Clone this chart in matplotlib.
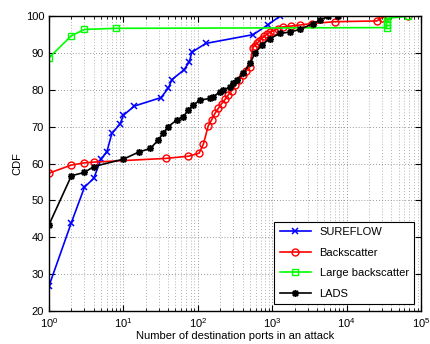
import matplotlib
matplotlib.use("Agg")
import matplotlib.pyplot as plt
from matplotlib.ticker import LogLocator, NullFormatter

plt.rcParams['font.family'] = ['Liberation Sans', 'DejaVu Sans']
plt.rcParams['mathtext.fontset'] = 'custom'
plt.rcParams['mathtext.rm'] = 'Liberation Sans'
plt.rcParams['mathtext.it'] = 'Liberation Sans'

# data
sureflow_x = [1, 2, 3, 4, 5, 6, 7, 9, 10, 14, 32, 40, 45, 65, 77, 83, 128, 557, 869, 1270]
sureflow_y = [26.8, 44, 53.6, 56, 61.2, 63.2, 68.2, 70.7, 73.1, 75.6, 77.9, 80.4, 82.8,
              85.4, 87.6, 90.2, 92.6, 95.0, 97.6, 100]

back_x = [1, 2, 3, 4, 37, 75, 104, 119, 138, 153, 170, 189, 210, 232, 256, 285, 320, 360,
          400, 450, 503, 545, 580, 620, 670, 720, 780, 850, 930, 1050, 1200, 1400, 1770,
          2360, 3380, 6970, 25500, 29600, 35000, 68000]
back_y = [57.4, 59.6, 60.2, 60.4, 61.4, 62, 62.8, 65.3, 70.2, 71.8, 73.6, 75, 76.3, 77.4,
          78.6, 79.8, 81.2, 82.6, 84, 85.2, 86.3, 91.4, 92.0, 92.6, 93.2, 93.9, 94.5, 95.1,
          95.6, 96.1, 96.6, 97.1, 97.3, 97.6, 98, 98.5, 98.7, 99.6, 100, 100]

large_x = [1, 2, 3, 8, 34500, 34500, 34500, 34500, 68000]
large_y = [88.7, 94.7, 96.4, 96.7, 96.9, 97.6, 98.3, 99.4, 100]

lads_x = [1, 2, 3, 4, 10, 16, 23, 29.5, 34, 40, 52, 64, 74, 87, 107, 146, 161, 199, 220,
          270, 300, 334, 409, 503, 585, 720, 928, 1270, 1730, 2360, 3550, 4370, 5630, 7730]
lads_y = [43.4, 56.7, 57.6, 59.2, 61.2, 63.1, 64.1, 66.4, 68.2, 70, 71.8, 72.7, 74.5,
          75.9, 77.2, 77.7, 78.1, 79.5, 79.9, 80.8, 81.8, 82.7, 84.5, 87.2, 89.9, 92.1,
          93.9, 95.3, 95.7, 96.4, 98, 98.9, 100, 100]

fig = plt.figure(figsize=(4.31, 3.44), dpi=100)
ax = fig.add_axes([0.1137, 0.096, 0.863, 0.857])

ax.plot(sureflow_x, sureflow_y, color='#0000ff', marker='x', markersize=4,
        markeredgewidth=1.1, linewidth=1.2, label='SUREFLOW')
ax.plot(back_x, back_y, color='#ff0000', marker='o', markersize=5, markerfacecolor='none',
        markeredgewidth=1.0, linewidth=1.2, label='Backscatter')
ax.plot(large_x, large_y, color='#00ff00', marker='s', markersize=4.5, markerfacecolor='none',
        markeredgewidth=1.0, linewidth=1.2, label='Large backscatter')
ax.plot(lads_x, lads_y, color='black', marker=(8, 2, 0), markersize=5,
        markeredgewidth=1.1, linewidth=1.2, label='LADS')

ax.set_xscale('log')
ax.set_xlim(1, 1e5)
ax.set_ylim(20, 100)
ax.set_yticks(range(20, 101, 10))
ax.xaxis.set_major_locator(LogLocator(base=10, numticks=10))
ax.xaxis.set_minor_locator(LogLocator(base=10, subs=range(2, 10), numticks=20))
ax.xaxis.set_minor_formatter(NullFormatter())

ax.grid(True, which='major', linestyle=(0, (1, 2.5)), color='#777777', linewidth=0.6)
ax.grid(True, which='minor', axis='x', linestyle=(0, (1, 2.5)), color='#999999',
        linewidth=0.6)
ax.tick_params(direction='in', which='both', top=True, right=True, labelsize=8)
ax.tick_params(which='major', length=4)
ax.tick_params(which='minor', length=2)
for s in ax.spines.values():
    s.set_linewidth(1.0)

ax.set_xlabel('Number of destination ports in an attack', fontsize=8, labelpad=1)
ax.set_ylabel('CDF', fontsize=8, labelpad=2)

leg = ax.legend(loc='lower right', fontsize=8, fancybox=False, framealpha=1,
                edgecolor='black', borderaxespad=0.6, handlelength=2.8,
                labelspacing=0.95, borderpad=0.5)
leg.get_frame().set_linewidth(0.8)

fig.savefig('out.png', dpi=100)
